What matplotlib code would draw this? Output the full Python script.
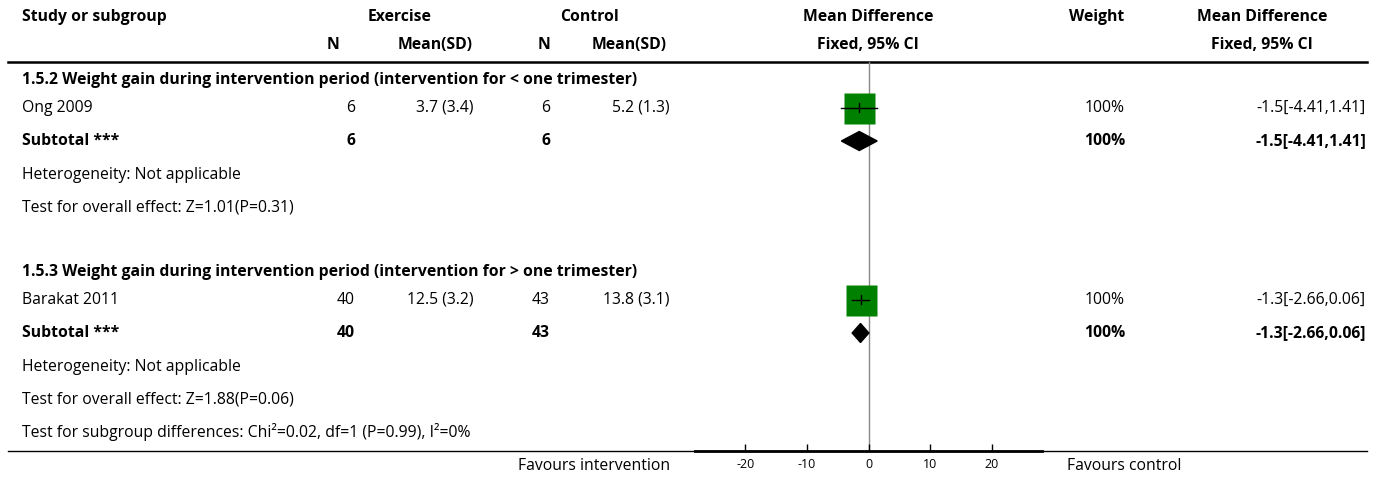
import matplotlib

matplotlib.use("Agg")

import matplotlib.pyplot as plt
from matplotlib.patches import Polygon

plt.rcParams["font.family"] = ["Open Sans", "DejaVu Sans"]
plt.rcParams["axes.unicode_minus"] = False

# Дані дослідження
studies = ["Ong 2009", "Barakat 2011"]
subgroups = [
    "1.5.2 Weight gain during intervention period (intervention for < one trimester)",
    "1.5.3 Weight gain during intervention period (intervention for > one trimester)",
]
ex_n = [6, 40]
ex_mean = [3.7, 12.5]
ex_sd = [3.4, 3.2]
ct_n = [6, 43]
ct_mean = [5.2, 13.8]
ct_sd = [1.3, 3.1]
md = [-1.5, -1.3]
ci_lo = [-4.41, -2.66]
ci_hi = [1.41, 0.06]
weights = [100, 100]
overall_tests = ["Z=1.01(P=0.31)", "Z=1.88(P=0.06)"]
subgroup_test = "Test for subgroup differences: Chi\u00b2=0.02, df=1 (P=0.99), I\u00b2=0%"
ticks = [-20, -10, 0, 10, 20]

W, H = 1375, 482
fig = plt.figure(figsize=(W / 100, H / 100), dpi=100)

# Вісь для таблиці в пікселях
ax = fig.add_axes([0, 0, 1, 1])
ax.set_xlim(0, W)
ax.set_ylim(H, 0)
ax.axis("off")

fs = 11.3
# Заголовки
ax.text(22, 17, "Study or subgroup", fontsize=fs, fontweight="bold", va="center")
ax.text(400, 17, "Exercise", fontsize=fs, fontweight="bold", va="center", ha="center")
ax.text(590, 17, "Control", fontsize=fs, fontweight="bold", va="center", ha="center")
ax.text(868, 17, "Mean Difference", fontsize=fs, fontweight="bold", va="center", ha="center")
ax.text(1097, 17, "Weight", fontsize=fs, fontweight="bold", va="center", ha="center")
ax.text(1262, 17, "Mean Difference", fontsize=fs, fontweight="bold", va="center", ha="center")
ax.text(339, 45, "N", fontsize=fs, fontweight="bold", va="center", ha="right")
ax.text(473, 45, "Mean(SD)", fontsize=fs, fontweight="bold", va="center", ha="right")
ax.text(550, 45, "N", fontsize=fs, fontweight="bold", va="center", ha="right")
ax.text(667, 45, "Mean(SD)", fontsize=fs, fontweight="bold", va="center", ha="right")
ax.text(868, 45, "Fixed, 95% CI", fontsize=fs, fontweight="bold", va="center", ha="center")
ax.text(1262, 45, "Fixed, 95% CI", fontsize=fs, fontweight="bold", va="center", ha="center")
ax.plot([8, 1367], [61.5, 61.5], color="black", lw=1.8)

# Вісь для графіка
x0, x1, y_top, y_bot = 695, 1042, 62, 451
fax = fig.add_axes([x0 / W, (H - y_bot) / H, (x1 - x0) / W, (y_bot - y_top) / H])
fax.set_xlim(-28.2, 28.2)
fax.set_ylim(y_bot, y_top)
fax.patch.set_alpha(0)
for s in ["top", "left", "right"]:
    fax.spines[s].set_visible(False)
fax.spines["bottom"].set_linewidth(2)
fax.set_yticks([])
fax.set_xticks(ticks)
fax.tick_params(axis="x", direction="in", length=5, width=1, labelsize=9, pad=5, colors="black")
fax.axvline(0, color="#888888", lw=1, zorder=1)

ax.plot([8, 1367], [451, 451], color="black", lw=1)

row_tops = [80, 272]
ms = 31 * 72 / 100
for i in range(len(studies)):
    y0 = row_tops[i]
    y_study, y_sub, y_het, y_test = y0 + 28, y0 + 61, y0 + 95, y0 + 127
    ax.text(22, y0, subgroups[i], fontsize=fs, fontweight="bold", va="center")
    ax.text(22, y_study, studies[i], fontsize=fs, va="center")
    ax.text(355, y_study, str(ex_n[i]), fontsize=fs, va="center", ha="right")
    ax.text(474, y_study, f"{ex_mean[i]} ({ex_sd[i]})", fontsize=fs, va="center", ha="right")
    ax.text(550, y_study, str(ct_n[i]), fontsize=fs, va="center", ha="right")
    ax.text(670, y_study, f"{ct_mean[i]} ({ct_sd[i]})", fontsize=fs, va="center", ha="right")
    ax.text(1125, y_study, f"{weights[i]}%", fontsize=fs, va="center", ha="right")
    ci_txt = f"{md[i]}[{ci_lo[i]},{ci_hi[i]}]"
    ax.text(1366, y_study, ci_txt, fontsize=fs, va="center", ha="right")

    ax.text(22, y_sub, "Subtotal ***", fontsize=fs, fontweight="bold", va="center")
    ax.text(355, y_sub, str(ex_n[i]), fontsize=fs, fontweight="bold", va="center", ha="right")
    ax.text(550, y_sub, str(ct_n[i]), fontsize=fs, fontweight="bold", va="center", ha="right")
    ax.text(1125, y_sub, f"{weights[i]}%", fontsize=fs, fontweight="bold", va="center", ha="right")
    ax.text(1366, y_sub, ci_txt, fontsize=fs, fontweight="bold", va="center", ha="right")
    ax.text(22, y_het, "Heterogeneity: Not applicable", fontsize=fs, va="center")
    ax.text(22, y_test, "Test for overall effect: " + overall_tests[i], fontsize=fs, va="center")

    # Квадрат та довірчий інтервал
    fax.plot(md[i], y_study, marker="s", ms=ms * (weights[i] / 100) ** 0.5,
             color="#008000", mec="none", zorder=2)
    fax.plot([ci_lo[i], ci_hi[i]], [y_study, y_study], color="black", lw=1, zorder=3)
    fax.plot([md[i], md[i]], [y_study - 4.5, y_study + 4.5], color="black", lw=1, zorder=3)
    # Ромб підсумку
    fax.add_patch(Polygon([(ci_lo[i], y_sub), (md[i], y_sub - 9.5), (ci_hi[i], y_sub),
                           (md[i], y_sub + 9.5)], closed=True, color="black", zorder=3))

ax.text(22, 432, subgroup_test, fontsize=fs, va="center")
ax.text(670, 466, "Favours intervention", fontsize=fs, va="center", ha="right")
ax.text(1067, 466, "Favours control", fontsize=fs, va="center", ha="left")

fig.savefig("out.png", dpi=100)
